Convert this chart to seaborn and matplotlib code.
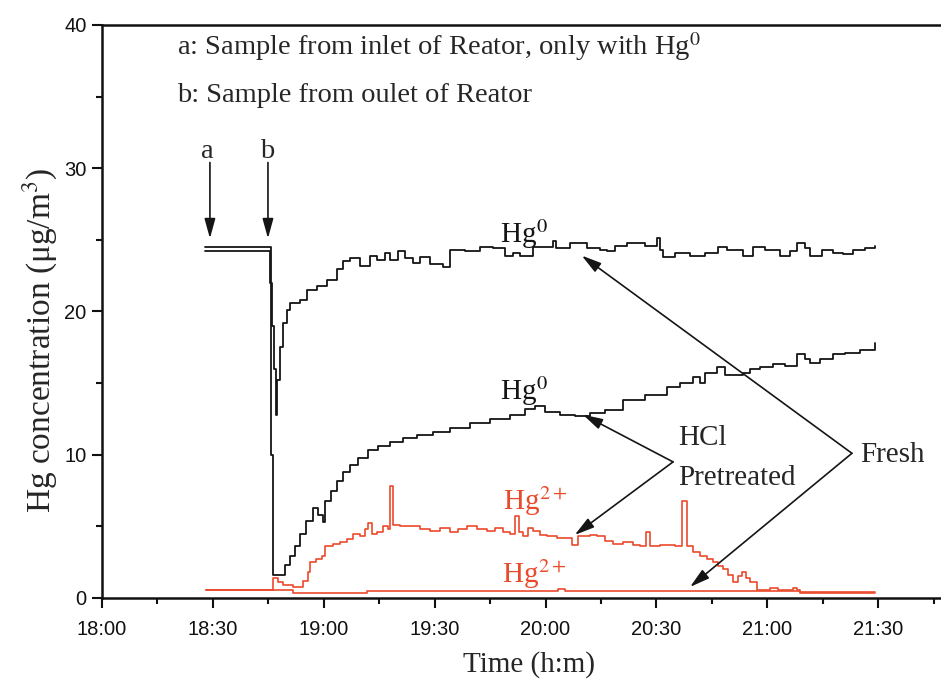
import numpy as np
import pandas as pd
import matplotlib
matplotlib.use("Agg")
import matplotlib.pyplot as plt
import seaborn as sns
from matplotlib.ticker import MultipleLocator

# time in minutes after 18:00, concentration in ug/m3
fresh_hg0_t = [27.9, 45.2, 45.4, 46.0, 46.5, 47.1, 47.3, 48.1, 49.0, 50.0, 50.9, 53.6, 55.5, 58.2,
               60.9, 63.6, 65.2, 67.1, 69.8, 72.5, 74.4, 76.6, 77.9, 80.1, 82.0, 84.1, 86.0, 88.7,
               92.2, 94.1, 98.2, 102.3, 105.8, 109.0, 111.2, 113.1, 116.6, 122.0, 122.8, 126.6,
               131.2, 134.7, 136.6, 138.8, 142.0, 146.9, 150.1, 150.9, 151.8, 155.0, 159.1, 163.1,
               166.7, 169.1, 173.4, 176.1, 179.3, 183.4, 186.1, 188.0, 190.2, 191.5, 194.8, 197.7,
               200.4, 203.1, 206.4, 209.1]
fresh_hg0_v = [24.2, 24.2, 22.0, 19.0, 16.0, 12.8, 15.2, 17.5, 19.2, 20.1, 20.6, 20.8, 21.5, 21.8,
               22.2, 23.0, 23.5, 23.7, 23.2, 23.9, 23.6, 24.1, 23.6, 24.2, 23.7, 23.4, 23.8, 23.3,
               23.1, 24.3, 24.2, 24.5, 24.4, 23.9, 24.1, 23.9, 24.5, 24.9, 24.4, 24.8,
               24.4, 24.3, 24.2, 24.6, 24.8, 24.6, 25.1, 24.3, 23.8, 24.1, 23.9, 24.1,
               24.5, 24.3, 23.9, 24.5, 24.3, 23.9, 24.2, 24.8, 24.4, 23.9, 24.3, 24.1,
               24.0, 24.3, 24.4, 24.6]

hcl_hg0_t = [27.9, 45.2, 45.7, 46.3, 48.1, 49.5, 50.9, 52.2, 53.6, 55.2, 57.1, 58.4, 59.8, 60.3,
             61.9, 63.6, 65.2, 67.1, 69.2, 72.0, 74.7, 77.9, 81.4, 85.2, 89.5, 94.1, 99.5, 105.0,
             110.4, 114.4, 117.1, 119.8, 123.9, 128.0, 132.0, 136.1, 140.9, 146.9, 152.8, 156.4,
             159.9, 161.8, 163.1, 166.4, 168.5, 173.4, 175.3, 178.0, 181.5, 184.7, 188.0, 190.2,
             191.5, 194.2, 197.7, 201.0, 205.0, 209.1]
hcl_hg0_v = [24.5, 24.5, 10.0, 1.6, 1.6, 2.3, 2.9, 3.6, 4.5, 5.4, 6.3, 5.8, 5.3, 6.8,
             7.5, 8.2, 8.8, 9.3, 9.8, 10.3, 10.6, 10.9, 11.2, 11.4, 11.6, 11.9, 12.2, 12.5,
             12.8, 13.2, 13.4, 13.0, 12.8, 12.7, 12.9, 13.1, 13.8, 14.2, 14.7, 15.0,
             15.4, 15.0, 15.7, 16.1, 15.6, 15.7, 16.0, 16.1, 16.3, 16.2, 17.0, 16.7,
             16.4, 16.7, 17.0, 17.1, 17.3, 17.8]

hcl_hg2_t = [28.1, 45.4, 46.3, 47.6, 49.0, 51.7, 54.4, 55.7, 56.3, 57.9, 59.5, 60.3, 62.5, 64.4,
             66.3, 67.9, 69.8, 71.1, 72.0, 73.0, 74.4, 76.0, 77.4, 77.9, 78.7, 80.6, 83.3, 86.0,
             88.7, 91.4, 94.1, 96.3, 98.7, 101.4, 104.1, 106.3, 108.5, 110.4, 111.7, 112.8, 113.9,
             115.2, 116.6, 118.5, 120.4, 123.1, 125.8, 127.2, 128.8, 132.0, 133.9, 136.1, 138.2,
             140.9, 143.6, 145.5, 147.2, 148.2, 150.9, 152.8, 155.0, 156.9, 158.2, 159.9, 161.8,
             163.7, 165.3, 166.6, 168.0, 169.3, 170.7, 172.0, 173.1, 174.2, 175.3, 177.2, 180.7,
             182.8, 186.9, 188.0, 188.8, 209.1]
hcl_hg2_v = [0.56, 0.56, 1.4, 1.1, 0.9, 0.8, 1.2, 1.8, 2.5, 2.7, 2.9, 3.6, 3.8, 3.9,
             4.1, 4.5, 4.3, 4.8, 5.2, 4.5, 4.6, 5.0, 4.8, 7.8, 5.1, 5.0, 5.0, 4.8,
             4.7, 4.9, 4.6, 4.8, 5.0, 4.8, 4.7, 4.9, 4.6, 4.5, 5.7, 4.6, 4.3,
             4.9, 4.7, 4.4, 4.3, 4.2, 4.2, 3.7, 4.3, 4.4, 4.3, 4.0, 3.8,
             3.9, 3.7, 3.6, 4.6, 3.6, 3.7, 3.7, 3.6, 6.8, 3.6, 3.2, 2.9,
             2.7, 2.5, 2.2, 2.0, 1.6, 1.1, 1.5, 1.8, 1.4, 1.1, 0.56, 0.7,
             0.56, 0.7, 0.56, 0.35, 0.35]

fresh_hg2_t = [28.1, 46.3, 51.7, 71.7, 122.5, 123.3, 125.2, 188.8, 209.1]
fresh_hg2_v = [0.56, 0.56, 0.35, 0.5, 0.5, 0.6, 0.5, 0.42, 0.42]

series_names = ["HCl Hg2+", "Fresh Hg2+", "Fresh Hg0", "HCl Hg0"]
x_tick_minutes = [0, 30, 60, 90, 120, 150, 180, 210]
x_tick_labels = ["18:00", "18:30", "19:00", "19:30", "20:00", "20:30", "21:00", "21:30"]

BLACK = "#151515"
RED = "#EA4A2C"

frames = []
for name, t, v in [("HCl Hg2+", hcl_hg2_t, hcl_hg2_v), ("Fresh Hg2+", fresh_hg2_t, fresh_hg2_v),
                   ("Fresh Hg0", fresh_hg0_t, fresh_hg0_v), ("HCl Hg0", hcl_hg0_t, hcl_hg0_v)]:
    frames.append(pd.DataFrame({"t": t, "v": v, "series": name}))
df = pd.concat(frames, ignore_index=True)

sns.set_style("ticks")
plt.rcParams["font.family"] = ["Liberation Serif", "DejaVu Serif"]
plt.rcParams["mathtext.fontset"] = "stix"

fig = plt.figure(figsize=(9.41, 6.86), dpi=100)
ax = fig.add_axes([0.1084, 0.1283, 0.8916, 0.8353])

palette = {"HCl Hg2+": RED, "Fresh Hg2+": RED, "Fresh Hg0": BLACK, "HCl Hg0": BLACK}
for name in series_names:
    sub = df[df["series"] == name]
    sns.lineplot(data=sub, x="t", y="v", color=palette[name], drawstyle="steps-post",
                 estimator=None, sort=False, linewidth=1.2 if "2+" in name else 1.3,
                 ax=ax, legend=False)

ax.set_xlim(0, 227)
ax.set_ylim(0, 40)
ax.set_xticks(x_tick_minutes)
ax.set_xticklabels(x_tick_labels)
ax.xaxis.set_minor_locator(MultipleLocator(15))
ax.set_yticks([0, 10, 20, 30, 40])
ax.yaxis.set_minor_locator(MultipleLocator(5))
for lab in ax.get_xticklabels() + ax.get_yticklabels():
    lab.set_fontfamily("Liberation Sans")
    lab.set_fontsize(14.5)
ax.tick_params(which="major", direction="out", length=7, width=1.5, colors="#111111")
ax.tick_params(axis="x", which="major", pad=9)
ax.tick_params(axis="y", which="major", pad=4)
ax.tick_params(which="minor", direction="out", length=4.5, width=1.5, colors="#111111")
ax.tick_params(top=False, right=False, which="both")
for s in ["left", "bottom", "top"]:
    ax.spines[s].set_linewidth(1.8)
    ax.spines[s].set_color("#111111")
ax.spines["right"].set_visible(False)

ax.set_xlabel("Time (h:m)", fontsize=21)
ax.xaxis.set_label_coords(0.509, -0.093)
ax.set_ylabel("Hg concentration (μg/m$^{3}$)", fontsize=24)
ax.yaxis.set_label_coords(-0.05, 0.449)

ax.text(20.4, 37.9, "a: Sample from inlet of Reator, only with Hg$^{0}$", fontsize=20.5,
        va="baseline", ha="left")
ax.text(20.4, 34.6, "b: Sample from oulet of Reator", fontsize=20.5, va="baseline", ha="left")

ax.text(28.4, 30.7, "a", fontsize=20.5, ha="center", va="baseline")
ax.text(44.6, 30.7, "b", fontsize=20.5, ha="center", va="baseline")
arrow_kw = dict(arrowstyle="-|>,head_length=0.8,head_width=0.22", color=BLACK, lw=1.2,
                mutation_scale=15, shrinkA=0, shrinkB=0)
ax.annotate("", xy=(29.2, 25.1), xytext=(29.2, 30.4), arrowprops=arrow_kw)
ax.annotate("", xy=(44.9, 25.1), xytext=(44.9, 30.4), arrowprops=arrow_kw)

ax.text(107.7, 24.78, "Hg$^{0}$", fontsize=21, va="baseline", ha="left", color=BLACK)
ax.text(107.7, 13.8, "Hg$^{0}$", fontsize=21, va="baseline", ha="left", color=BLACK)
ax.text(108.5, 6.14, "Hg$^{2+}$", fontsize=21, va="baseline", ha="left", color=RED)
ax.text(108.2, 1.05, "Hg$^{2+}$", fontsize=21, va="baseline", ha="left", color=RED)

ax.text(155.8, 10.68, "HCl", fontsize=21, va="baseline", ha="left")
ax.text(155.8, 7.89, "Pretreated", fontsize=21, va="baseline", ha="left")
ax.text(205.0, 9.49, "Fresh", fontsize=21, va="baseline", ha="left")

ax.annotate("", xy=(130.1, 12.8), xytext=(154.5, 9.5), arrowprops=arrow_kw)
ax.annotate("", xy=(127.9, 4.4), xytext=(154.5, 9.5), arrowprops=arrow_kw)
ax.annotate("", xy=(129.8, 23.9), xytext=(202.9, 10.1), arrowprops=arrow_kw)
ax.annotate("", xy=(159.1, 0.77), xytext=(202.9, 10.1), arrowprops=arrow_kw)

fig.savefig("out.png", dpi=100)
